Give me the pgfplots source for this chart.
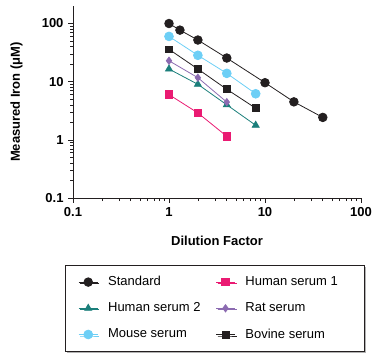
\documentclass[border=0pt]{standalone}
\usepackage{pgfplots}
\pgfplotsset{compat=1.18}
\usepackage{fontspec}
\setmainfont{Liberation Sans}
\usetikzlibrary{shadows}
\definecolor{cblack}{HTML}{231F20}
\definecolor{cpink}{HTML}{EA1A72}
\definecolor{cteal}{HTML}{1B7F7B}
\definecolor{cpurple}{HTML}{8C6BB1}
\definecolor{cblue}{HTML}{6DCFF6}
\begin{document}
\fontsize{13pt}{15pt}\selectfont
\begin{tikzpicture}
\path[use as bounding box] (-73pt,-162pt) rectangle (315pt,198pt);
\begin{axis}[
  at={(0pt,0pt)}, anchor=south west,
  scale only axis, width=288pt, height=192pt,
  xmode=log, ymode=log,
  xmin=0.1, xmax=100, ymin=0.1, ymax=200,
  axis x line*=bottom, axis y line*=left,
  axis line style={draw=cblack, line width=0.8pt},
  xtick={0.1,1,10,100}, ytick={0.1,1,10,100},
  xticklabels={\textbf{0.1},\textbf{1},\textbf{10},\textbf{100}},
  yticklabels={\textbf{0.1},\textbf{1},\textbf{10},\textbf{100}},
  tick align=outside,
  major tick length=5pt, minor tick length=3pt,
  tick style={draw=cblack, line width=0.6pt},
  ticklabel style={font=\fontsize{13pt}{15pt}\selectfont},
  xlabel={\textbf{Dilution Factor}},
  ylabel={\textbf{Measured Iron (μM)}},
  label style={font=\fontsize{13pt}{15pt}\selectfont},
  xlabel style={at={(axis description cs:0.5,-0.224)}, anchor=center},
  ylabel style={at={(axis description cs:-0.196,0.5)}, anchor=center},
  clip=false,
  legend columns=2,
  legend cell align=left,
  legend style={
    at={(axis description cs:-0.028,-0.349)}, anchor=north west,
    draw=cblack, line width=0.8pt,
    drop shadow={shadow xshift=1.5pt, shadow yshift=-1.5pt, fill=gray!60, opacity=1},
    fill=white,
    font=\fontsize{13pt}{15pt}\selectfont,
    inner xsep=13pt, inner ysep=9pt,
    row sep=11pt,
    /tikz/every odd column/.append style={column sep=8pt},
    /tikz/every even column/.append style={column sep=13pt},
  },
  legend image code/.code={
    \draw[mark repeat=2,mark phase=2] plot coordinates {(0pt,0pt) (9.5pt,0pt) (19pt,0pt)};
  },
]
\addplot[cblack, line width=0.8pt, mark=*, mark size=4.3pt, mark options={solid, fill=cblack}]
  coordinates {(1,100) (1.3,77) (2,52) (4,25.5) (10,9.6) (20,4.5) (40,2.43)};
\addlegendentry{Standard}
\addplot[cpink, line width=0.8pt, mark=square*, mark size=3.7pt, mark options={solid, fill=cpink}]
  coordinates {(1,6.0) (2,2.9) (4,1.15)};
\addlegendentry{Human serum 1\hspace*{12pt}}
\addplot[cteal, line width=0.8pt, mark=triangle*, mark size=4pt, mark options={solid, fill=cteal}]
  coordinates {(1,16.5) (2,9.0) (4,4.0) (8,1.78)};
\addlegendentry{Human serum 2}
\addplot[cpurple, line width=0.8pt, mark=diamond*, mark size=3.6pt, mark options={solid, fill=cpurple}]
  coordinates {(1,22.9) (2,11.7) (4,4.45)};
\addlegendentry{Rat serum}
\addplot[cblue, line width=0.8pt, mark=*, mark size=4.4pt, mark options={solid, fill=cblue}]
  coordinates {(1,60) (2,28.4) (4,13.9) (8,6.2)};
\addlegendentry{Mouse serum}
\addplot[cblack, line width=0.8pt, mark=square*, mark size=3.4pt, mark options={solid, fill=cblack}]
  coordinates {(1,36) (2,16.5) (4,7.4) (8,3.5)};
\addlegendentry{Bovine serum}
\end{axis}
\end{tikzpicture}
\end{document}
